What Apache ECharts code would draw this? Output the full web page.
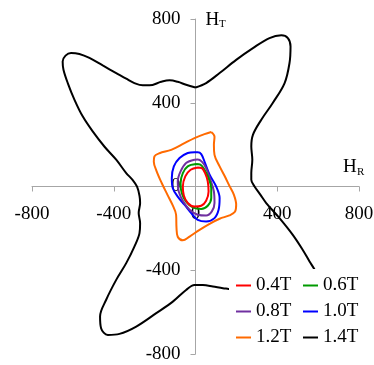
<!DOCTYPE html>
<html>
<head>
<meta charset="utf-8">
<script src="https://cdn.jsdelivr.net/npm/echarts@6/dist/echarts.min.js"></script>
<style>
  html, body { margin: 0; padding: 0; background: #ffffff; }
  #chart { width: 374px; height: 365px; }
</style>
</head>
<body>
<div id="chart"></div>
<script>
// Axis ticks (A/m)
const axisMin = -800;
const axisMax = 800;
const axisStep = 400;

// Legend labels, in display order
const seriesNames = ['0.4T', '0.6T', '0.8T', '1.0T', '1.2T', '1.4T'];
const seriesColors = ['#ff0000', '#009a00', '#7030a0', '#0000ff', '#ff6a00', '#000000'];

// H-field loci [H_R, H_T] for each peak flux density
const locus04 = [[11,91],[-24,80],[-50,48],[-62,0],[-57,-43],[-38,-79],[-5,-96],[28,-92],[52,-68],[64,-24],[60,24],[47,64],[31,88],[11,91]];
const locus06 = [[3,107],[-38,96],[-62,64],[-73,16],[-67,-32],[-46,-72],[-13,-100],[28,-107],[60,-92],[77,-55],[77,-8],[64,40],[44,80],[24,104],[3,107]];
const locus08 = [[-5,128],[-46,112],[-73,72],[-87,24],[-82,-24],[-62,-68],[-29,-111],[11,-135],[52,-139],[80,-119],[93,-79],[90,-24],[73,32],[52,88],[31,119],[11,129],[-5,128]];
const locus10 = [[-5,164],[-38,160],[-78,136],[-106,96],[-116,40],[-111,-8],[-87,-48],[-54,-87],[-21,-127],[11,-159],[52,-167],[93,-151],[113,-111],[118,-55],[101,0],[69,56],[44,119],[28,155],[11,164],[-5,164]];
const locus12 = [[77,260],[93,238],[90,199],[93,151],[118,96],[142,51],[166,3],[188,-40],[199,-87],[193,-121],[166,-138],[118,-154],[69,-178],[20,-207],[-29,-239],[-62,-257],[-87,-240],[-93,-197],[-95,-135],[-113,-87],[-137,-40],[-166,18],[-191,75],[-204,118],[-201,144],[-176,159],[-119,175],[-54,207],[-5,231],[44,250],[77,260]];
const locus14 = [[0,473],[-46,486],[-87,500],[-127,507],[-168,500],[-225,483],[-258,483],[-299,494],[-339,515],[-388,542],[-454,578],[-519,614],[-568,633],[-609,638],[-636,625],[-650,597],[-646,558],[-625,494],[-592,414],[-552,335],[-503,263],[-446,191],[-388,128],[-339,64],[-308,32],[-286,-1],[-274,-44],[-271,-79],[-278,-127],[-271,-175],[-274,-223],[-299,-287],[-339,-366],[-388,-446],[-437,-541],[-467,-621],[-462,-677],[-429,-709],[-372,-704],[-290,-669],[-192,-605],[-111,-550],[-46,-494],[-5,-470],[36,-471],[85,-478],[134,-486],[162,-489],[264,-503],[362,-541],[485,-589],[583,-627],[636,-627],[656,-599],[646,-541],[617,-470],[583,-398],[558,-358],[525,-303],[476,-231],[411,-151],[346,-79],[318,-40],[289,0],[273,32],[273,64],[278,128],[273,191],[281,247],[322,319],[378,399],[436,494],[460,590],[465,669],[452,709],[420,722],[362,709],[281,661],[199,605],[118,542],[52,494],[0,473]];

const loci = [locus04, locus06, locus08, locus10, locus12, locus14];

const FONT = 'Liberation Serif, Times New Roman, serif';
const AXIS_GRAY = '#a6a6a6';

// Plot area and the origin inside it
const PLOT = { left: 32, right: 15, top: 19, bottom: 11 };
const W = 374, H = 365;
const originX = PLOT.left + (W - PLOT.left - PLOT.right) / 2;
const originY = PLOT.top + (H - PLOT.top - PLOT.bottom) / 2;

// Larger loci first so the small ones sit on top
const series = [];
for (let i = loci.length - 1; i >= 0; i--) {
  series.push({
    name: seriesNames[i],
    type: 'line',
    xAxisIndex: 0,
    yAxisIndex: 0,
    data: loci[i],
    smooth: 0.35,
    showSymbol: false,
    symbol: 'none',
    lineStyle: { color: seriesColors[i], width: 2 },
    itemStyle: { color: seriesColors[i] },
    z: 3 + (loci.length - i)
  });
}

const hiddenAxis = {
  type: 'value', min: axisMin, max: axisMax, interval: axisStep, show: false
};
const shownAxisBase = {
  type: 'value', min: axisMin, max: axisMax, interval: axisStep,
  axisLine: { onZero: false, lineStyle: { color: AXIS_GRAY, width: 1 } },
  axisTick: { show: true, length: 5, lineStyle: { color: AXIS_GRAY } },
  splitLine: { show: false },
  z: 0
};

// Two legend columns on a white panel
const legendBase = {
  orient: 'vertical',
  top: 269,
  itemGap: 7,
  itemWidth: 15,
  itemHeight: 2,
  icon: 'rect',
  backgroundColor: '#ffffff',
  textStyle: { fontFamily: FONT, fontSize: 19, color: '#000' },
  z: 20
};

const chart = echarts.init(document.getElementById('chart'), null, { renderer: 'canvas' });

chart.setOption({
  animation: false,
  backgroundColor: '#ffffff',
  grid: [
    // plotting area
    Object.assign({ containLabel: false, outerBoundsMode: 'none' }, PLOT),
    // upper half: its bottom edge carries the H_R axis through the origin
    { left: PLOT.left, right: PLOT.right, top: PLOT.top, bottom: H - originY, containLabel: false, outerBoundsMode: 'none' },
    // right half: its left edge carries the H_T axis through the origin
    { left: originX, right: PLOT.right, top: PLOT.top, bottom: PLOT.bottom, containLabel: false, outerBoundsMode: 'none' }
  ],
  xAxis: [
    Object.assign({ gridIndex: 0 }, hiddenAxis),
    Object.assign({}, shownAxisBase, {
      gridIndex: 1, position: 'bottom',
      axisLabel: { margin: 18, fontFamily: FONT, fontSize: 19, color: '#000' }
    }),
    Object.assign({ gridIndex: 2 }, hiddenAxis)
  ],
  yAxis: [
    Object.assign({ gridIndex: 0 }, hiddenAxis),
    Object.assign({ gridIndex: 1 }, hiddenAxis),
    Object.assign({}, shownAxisBase, {
      gridIndex: 2, position: 'left',
      axisLabel: { margin: 15, fontFamily: FONT, fontSize: 19, color: '#000' }
    })
  ],
  legend: [
    Object.assign({}, legendBase, {
      data: [seriesNames[0], seriesNames[2], seriesNames[4]],
      left: 229, padding: [7, 12, 8, 7]
    }),
    Object.assign({}, legendBase, {
      data: [seriesNames[1], seriesNames[3], seriesNames[5]],
      left: 303, padding: [7, 8, 8, 0]
    })
  ],
  graphic: [
    { type: 'text', x: 205.5, y: 20.5, z: 30, style: { text: 'H', fontFamily: FONT, fontSize: 19, fill: '#000', align: 'left', verticalAlign: 'middle' } },
    { type: 'text', x: 219, y: 24.5, z: 30, style: { text: 'T', fontFamily: FONT, fontSize: 11, fill: '#000', align: 'left', verticalAlign: 'middle' } },
    { type: 'text', x: 343, y: 167.5, z: 30, style: { text: 'H', fontFamily: FONT, fontSize: 19, fill: '#000', align: 'left', verticalAlign: 'middle' } },
    { type: 'text', x: 357, y: 172.5, z: 30, style: { text: 'R', fontFamily: FONT, fontSize: 11, fill: '#000', align: 'left', verticalAlign: 'middle' } }
  ],
  series: series
});
</script>
</body>
</html>
